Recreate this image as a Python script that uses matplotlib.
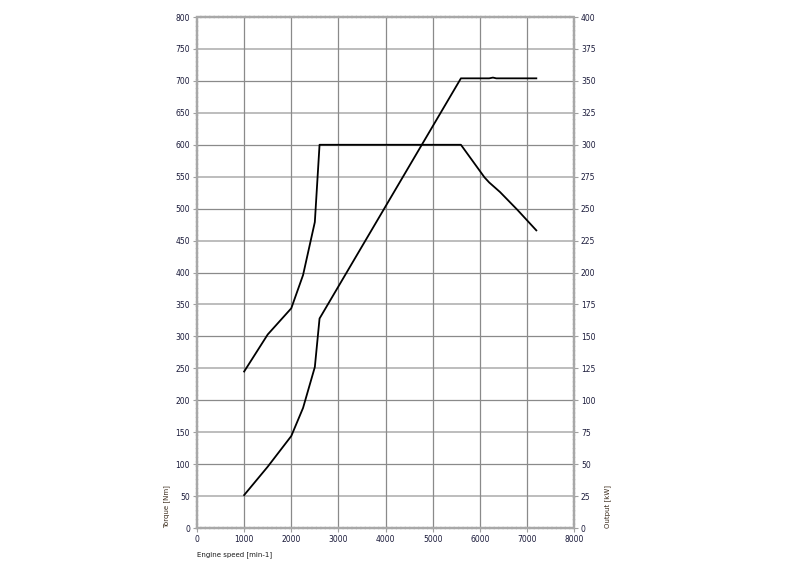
import matplotlib.pyplot as plt
import numpy as np

# engine data
torque_rpm = [1000, 1500, 2000, 2250, 2500, 2600, 5600, 6100, 6200, 6430, 6800, 7200]
torque_nm = [245, 303, 344, 396, 479, 600, 600, 549, 541, 526, 498, 466]

power_rpm = [1000, 1500, 2000, 2250, 2500, 2600, 5600, 6200, 6280, 6350, 7200]
power_kw = [25.8, 48, 72, 94, 126, 164, 352, 352, 352.6, 352, 352]

x_ticks = np.arange(0, 8001, 1000)
torque_ticks = np.arange(0, 801, 50)
power_ticks = np.arange(0, 401, 25)

fig = plt.figure(figsize=(7.9, 5.83), dpi=100)
ax = fig.add_axes([0.2494, 0.0943, 0.4772, 0.8765])
ax2 = ax.twinx()

# grid: darker every 100 Nm, lighter on the 50s
for v in torque_ticks[1:-1]:
    c = '#8a8a8a' if v % 100 == 0 else '#b8b8b8'
    lw = 0.9 if v % 100 == 0 else 1.3
    ax.axhline(v, color=c, lw=lw, zorder=0)
for v in x_ticks[1:-1]:
    ax.axvline(v, color='#8a8a8a', lw=0.9, zorder=0)

ax.plot(torque_rpm, torque_nm, color='black', lw=1.3, zorder=3)
ax2.plot(power_rpm, power_kw, color='black', lw=1.3, zorder=3)

ax.set_xlim(0, 8000)
ax.set_ylim(0, 800)
ax2.set_ylim(0, 400)
ax.set_xticks(x_ticks)
ax.set_yticks(torque_ticks)
ax2.set_yticks(power_ticks)

for a in (ax, ax2):
    a.tick_params(labelsize=5.5, length=3, width=0.8, color='#a0a0a0',
                  labelcolor='#1a1a3a', pad=2)
    for s in a.spines.values():
        s.set_color('#a8a8a8')
        s.set_linewidth(1.6)
        s.set_linestyle((0, (1.5, 0.5)))

ax.text(-0.08, 0.0, 'Torque [Nm]', transform=ax.transAxes, rotation=90,
        fontsize=5, color='#3a2a1a', ha='center', va='bottom')
ax2.text(1.09, 0.0, 'Output [kW]', transform=ax2.transAxes, rotation=90,
         fontsize=5, color='#3a2a1a', ha='center', va='bottom')
ax.text(0.0, -0.052, 'Engine speed [min-1]', transform=ax.transAxes,
        fontsize=5, color='#1a1a1a', ha='left', va='center')

plt.savefig('out.png', dpi=100)
